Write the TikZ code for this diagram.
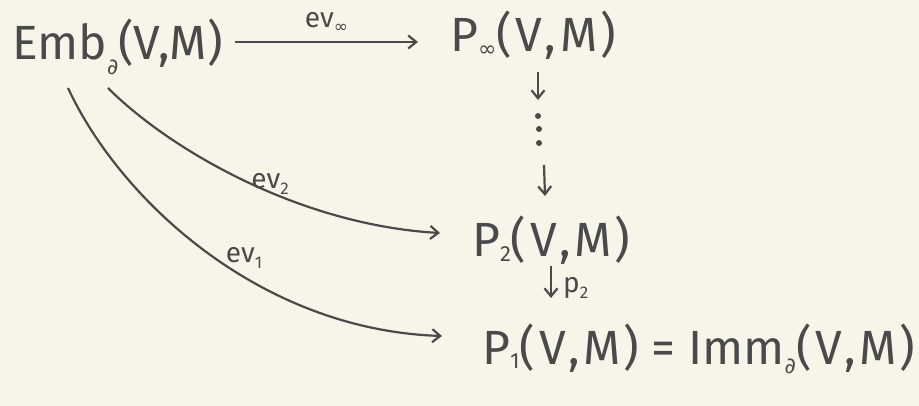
\documentclass[tikz,border=0pt]{standalone}
\usepackage{fontspec}
\setmainfont{Fira Sans}
\newfontfamily\symf{DejaVu Sans}
\usetikzlibrary{arrows.meta}
\definecolor{paper}{HTML}{F7F5EA}
\definecolor{ink}{HTML}{4A4A4A}
\newcommand{\lsub}[2]{\raisebox{#1}{\fontsize{22}{24}\selectfont #2}}
\newcommand{\ssub}[1]{\raisebox{-0.2em}{\fontsize{17}{19}\selectfont #1}}
\newcommand{\vmpair}{(\hspace{0.08em}V\hspace{0.05em},\hspace{0.08em}M\hspace{0.05em})}
\begin{document}
\begin{tikzpicture}[x=1pt,y=-1pt,
  obj/.style={text=ink,inner sep=0pt,anchor=base west,font=\fontsize{48}{52}\selectfont},
  lab/.style={text=ink,inner sep=0pt,font=\fontsize{28}{30}\selectfont},
  arr/.style={draw=ink,line width=2.2pt,-{Straight Barb[length=8pt,width=13pt,line width=2.2pt]}}]
\fill[paper] (0,0) rectangle (919,406);
\useasboundingbox (0,0) rectangle (919,406);
\node[obj] (emb) at (12,60) {Emb\lsub{-0.3em}{\symf ∂}(V,M)};
\node[obj] (pinf) at (450,52) {P\lsub{-0.1em}{\symf ∞}\vmpair};
\node[obj] (p2) at (472,257) {P\lsub{-0.1em}{2}\vmpair};
\node[obj] (p1) at (482,364) {P\lsub{-0.1em}{1}\vmpair\ = Imm\lsub{-0.2em}{\symf ∂}\vmpair};
\coordinate (a0) at (235,42);
\coordinate (a1) at (418,42);
\draw[arr] (a0) -- node[lab,above=8pt] (linf) {ev\ssub{\symf ∞}} (a1);
\coordinate (d0) at (538,72);
\coordinate (d1) at (538,100);
\draw[arr] (d0) -- (d1);
\node[fill=ink,circle,inner sep=0pt,minimum size=6pt] (dt1) at (538,116) {};
\node[fill=ink,circle,inner sep=0pt,minimum size=6pt] (dt2) at (539,129) {};
\node[fill=ink,circle,inner sep=0pt,minimum size=6pt] (dt3) at (539,143) {};
\coordinate (e0) at (544,165);
\coordinate (e1) at (545,196);
\draw[arr] (e0) -- (e1);
\coordinate (f0) at (551,266);
\coordinate (f1) at (551,298);
\draw[arr] (f0) -- (f1);
\node[lab,anchor=west] (lp2) at (563,288) {p\ssub{2}};
\coordinate (s2) at (108,88);
\coordinate (t2) at (440,233);
\draw[arr] (s2) .. controls (170,150) and (300,225) .. (t2);
\node[lab] (lev2) at (270,184) {ev\ssub{2}};
\coordinate (s1) at (68,88);
\coordinate (t1) at (442,336);
\draw[arr] (s1) .. controls (120,200) and (260,330) .. (t1);
\node[lab] (lev1) at (244,258) {ev\ssub{1}};
\end{tikzpicture}
\end{document}
